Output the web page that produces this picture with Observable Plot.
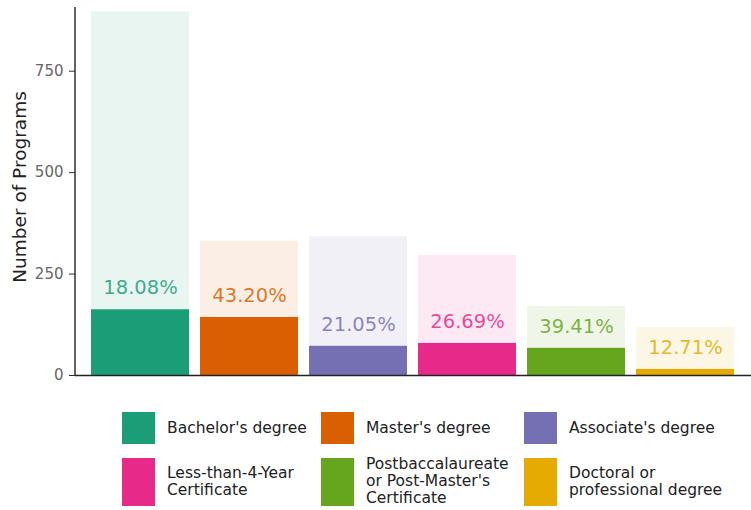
<!DOCTYPE html>
<html>
<head>
<meta charset="utf-8">
<script src="https://cdn.jsdelivr.net/npm/d3@7"></script>
<script src="https://cdn.jsdelivr.net/npm/@observablehq/plot@0.6"></script>
<style>
  html, body { margin: 0; padding: 0; background: #fff; }
  body { width: 751px; height: 510px; overflow: hidden; font-family: "DejaVu Sans", sans-serif; }
  #legend {
    position: relative;
    margin-top: 22px;
    margin-left: 122px;
    display: grid;
    grid-template-columns: 199px 203px auto;
    grid-template-rows: 32px 48px;
    row-gap: 13.5px;
  }
  .item { display: flex; align-items: center; }
  .sw { width: 33px; align-self: stretch; flex: none; margin-right: 12px; }
  .lab { font-size: 15.5px; line-height: 17px; color: #222; white-space: nowrap; }
</style>
</head>
<body>
<div id="chart"></div>
<div id="legend"></div>
<script>
const categories = ["Bachelor's degree", "Master's degree", "Associate's degree", "Less-than-4-Year Certificate", "Postbaccalaureate or Post-Master's Certificate", "Doctoral or professional degree"];
const legendLabels = ["Bachelor's degree", "Master's degree", "Associate's degree", "Less-than-4-Year<br>Certificate", "Postbaccalaureate<br>or Post-Master's<br>Certificate", "Doctoral or<br>professional degree"];
const totals = [896, 331, 342, 296, 170, 118];
const highlighted = [162, 143, 72, 79, 67, 15];
const pctLabels = ["18.08%", "43.20%", "21.05%", "26.69%", "39.41%", "12.71%"];
const colors = ["#1b9e77", "#d95f02", "#7570b3", "#e7298a", "#66a61e", "#e6ab02"];
const yTicks = [0, 250, 500, 750];
const yTitle = ["Number of Programs"];

const data = categories.map((c, i) => ({cat: c, total: totals[i], hi: highlighted[i], pct: pctLabels[i]}));

const W = 751, H = 390, mL = 75, mR = 0, mT = 7, mB = 15;

const leftLine = (index, scales, values, dims) => {
  const g = d3.create("svg:g");
  g.append("line")
    .attr("x1", dims.marginLeft).attr("x2", dims.marginLeft)
    .attr("y1", dims.marginTop).attr("y2", dims.height - dims.marginBottom)
    .attr("stroke", "#222").attr("stroke-width", 1.4);
  return g.node();
};

const chart = Plot.plot({
  width: W, height: H,
  marginLeft: mL, marginRight: mR, marginTop: mT, marginBottom: mB,
  style: {fontFamily: "DejaVu Sans, sans-serif", background: "#fff"},
  x: {domain: categories, paddingInner: 0.1, paddingOuter: 0.15, axis: null},
  y: {domain: [0, 907]},
  color: {domain: categories, range: colors},
  marks: [
    Plot.barY(data, {x: "cat", y: "total", fill: "cat", fillOpacity: 0.1}),
    Plot.barY(data, {x: "cat", y: "hi", fill: "cat"}),
    Plot.text(data, {x: "cat", y: "hi", text: "pct", fill: "cat", fillOpacity: 0.85, dy: -22, fontSize: 19.5}),
    Plot.axisY({ticks: yTicks, tickSize: 6, tickPadding: 6, fontSize: 15, color: "#666", stroke: "#333", label: null}),
    Plot.text(yTitle, {frameAnchor: "left", textAnchor: "middle", rotate: -90, dx: -55, dy: -4.5, fontSize: 18.5, fill: "#222"}),
    Plot.ruleY([0], {stroke: "#222", strokeWidth: 1.4}),
    leftLine
  ]
});
document.getElementById("chart").appendChild(chart);

const legend = document.getElementById("legend");
categories.forEach((c, i) => {
  const it = document.createElement("div");
  it.className = "item";
  it.innerHTML = `<div class="sw" style="background:${colors[i]}"></div><div class="lab">${legendLabels[i]}</div>`;
  legend.appendChild(it);
});
</script>
</body>
</html>
